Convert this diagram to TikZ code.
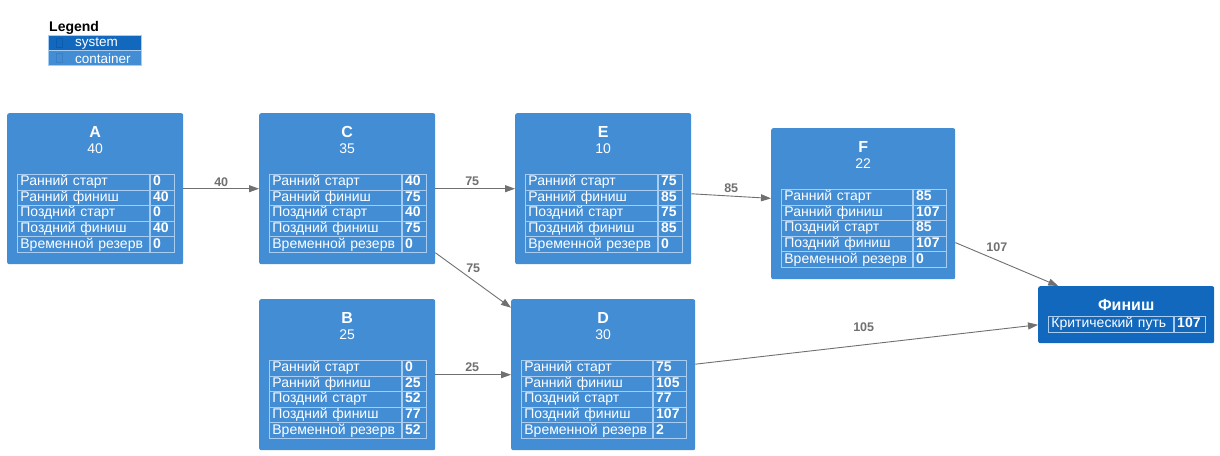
\documentclass[tikz,border=0pt]{standalone}
\usepackage{fontspec}
\setmainfont{Liberation Sans}
\usetikzlibrary{arrows.meta,calc}
\definecolor{contc}{HTML}{438DD5}
\definecolor{sysc}{HTML}{1168BD}
\definecolor{tblc}{HTML}{A9CDF0}
\definecolor{edgec}{HTML}{707070}
\definecolor{iconsys}{HTML}{0B5CAE}
\definecolor{iconcont}{HTML}{3A80C6}
\newcommand\rowlabel[1]{\ifcase#1\or Ранний старт\or Ранний финиш\or Поздний старт\or Поздний финиш\or Временной резерв\fi}
\tikzset{
  box/.style={fill=contc, rounded corners=2pt, minimum height=151pt, inner sep=0pt, draw=none},
  finbox/.style={fill=sysc, rounded corners=2pt, minimum height=57pt, inner sep=0pt, draw=none},
  ttl/.style={text=white, font=\fontsize{16}{18}\selectfont\bfseries, inner sep=0pt},
  dur/.style={text=white, font=\fontsize{14}{16}\selectfont, inner sep=0pt},
  cellL/.style={draw=tblc, line width=0.8pt, text=white, font=\fontsize{14}{16}\selectfont,
    minimum height=15.6pt, inner ysep=0pt, inner xsep=3pt, align=left, text height=10pt, text depth=3pt},
  cellV/.style={draw=tblc, line width=0.8pt, text=white, font=\fontsize{14}{16}\selectfont\bfseries,
    minimum height=15.6pt, inner ysep=0pt, inner xsep=3pt, align=left, text height=10pt, text depth=3pt},
  conn/.style={draw=edgec, line width=0.9pt, -{Triangle[length=10pt,width=7pt]}},
  lbl/.style={text=edgec, font=\fontsize{12.5}{14}\selectfont\bfseries, inner sep=0pt},
  legrow/.style={minimum width=93pt, minimum height=15pt, inner sep=0pt, anchor=north west, draw=tblc, line width=0.3pt},
  legtxt/.style={text=white, font=\fontsize{13.5}{15}\selectfont, inner sep=0pt, anchor=west},
  legicon/.style={draw, line width=0.8pt, minimum width=6pt, minimum height=9pt, inner sep=0pt},
}
\newcommand\ptask[8]{%
  \node[box, minimum width=#4, anchor=north west] (#1) at (#2,#3) {};
  \node[ttl] (#1-t) at ([yshift=-19pt]#1.north) {#5};
  \node[dur] (#1-d) at ([yshift=-36pt]#1.north) {#6};
  \foreach \v [count=\i] in {#8} {
    \node[cellL, text width=#4-26-#7, anchor=north west] (#1-l\i)
      at ([xshift=10pt, yshift=-61pt-(\i-1)*15.6pt]#1.north west) {\rowlabel{\i}};
    \node[cellV, text width=#7-6, anchor=north west] (#1-v\i) at (#1-l\i.north east) {\v};
  }%
}
\begin{document}
\begin{tikzpicture}[x=1pt, y=-1pt]
\useasboundingbox[fill=white] (0,0) rectangle (1220,455);
% legend
\node[inner sep=0pt, anchor=west, font=\fontsize{14}{16}\selectfont\bfseries] (lg) at (49,27.5) {Legend};
\node[legrow, fill=sysc] (lg-s) at (48,35) {};
\node[legrow, fill=contc] (lg-c) at (48,50) {};
\node[legicon, draw=iconsys] (lg-si) at (59,42.5) {};
\node[legicon, draw=iconcont] (lg-ci) at (59,57.5) {};
\node[legtxt] (lg-st) at (75,43.5) {system};
\node[legtxt] (lg-ct) at (75,58.5) {container};
% tasks
\ptask{A}{7}{113}{176}{A}{40}{24}{0,40,0,40,0}
\ptask{C}{259}{113}{176}{C}{35}{24}{40,75,40,75,0}
\ptask{E}{515}{113}{176}{E}{10}{24}{75,85,75,85,0}
\ptask{F}{771}{128}{184}{F}{22}{33}{85,107,85,107,0}
\ptask{B}{259}{299}{176}{B}{25}{24}{0,25,52,77,52}
\ptask{D}{511}{299}{184}{D}{30}{33}{75,105,77,107,2}
% finish
\node[finbox, minimum width=176, anchor=north west] (Fin) at (1038,286) {};
\node[ttl] (Fin-t) at ([yshift=-19pt]Fin.north) {Финиш};
\node[cellL, text width=119, anchor=north west] (Fin-l) at ([xshift=10pt, yshift=-30pt]Fin.north west) {Критический путь};
\node[cellV, text width=25, anchor=north west] (Fin-v) at (Fin-l.north east) {107};
% connectors
\draw[conn] (A) -- node[lbl, yshift=7pt] (eAC) {40} (C);
\draw[conn] (C) -- node[lbl, yshift=7pt, xshift=-3pt] (eCE) {75} (E);
\draw[conn] (C) -- node[lbl, yshift=12pt] (eCD) {75} (D);
\draw[conn] (E) -- node[lbl, yshift=8pt] (eEF) {85} (F);
\draw[conn] (B) -- node[lbl, yshift=7.5pt, xshift=-1pt] (eBD) {25} (D);
\draw[conn] (F) -- node[lbl, yshift=17pt, xshift=-10pt] (eFF) {107} (Fin);
\draw[conn] (D) -- node[lbl, yshift=17pt, xshift=-3pt] (eDF) {105} (Fin);
\end{tikzpicture}
\end{document}
